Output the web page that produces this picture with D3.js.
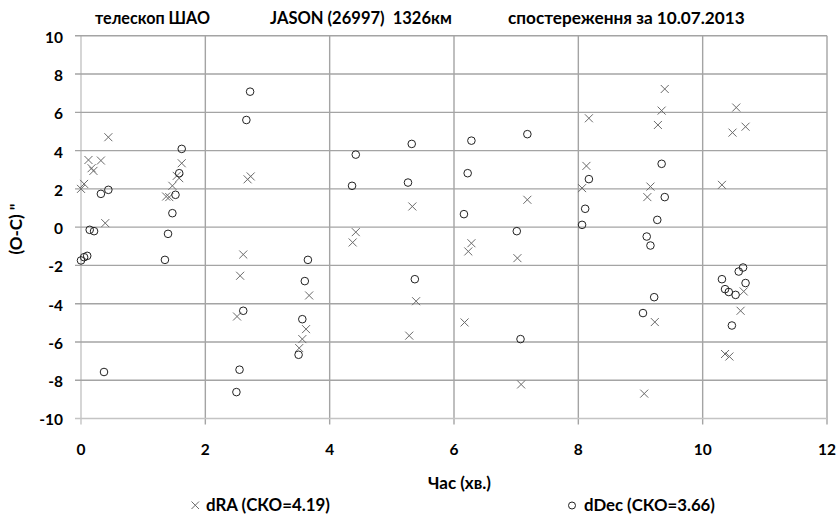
<!DOCTYPE html>
<html><head><meta charset="utf-8">
<script src="https://cdn.jsdelivr.net/npm/d3@7"></script>
<style>body{margin:0;background:#fff}text{font-family:Lato,'Open Sans',sans-serif;font-weight:bold;fill:#000;white-space:pre}</style>
</head><body>
<svg id="c" width="839" height="518"></svg>
<script>
const titleParts = ["телескоп ШАО", "JASON (26997)  1326км", "спостереження за 10.07.2013"];
const xTicks = [0, 2, 4, 6, 8, 10, 12];
const yTicks = [-10, -8, -6, -4, -2, 0, 2, 4, 6, 8, 10];
const xLabel = "Час (хв.)";
const yLabel = "(O-C) \"";
const seriesNames = ["dRA (СКО=4.19)", "dDec (СКО=3.66)"];

const raT = [0,0.05,0.12,0.17,0.2,0.32,0.39,0.44,1.37,1.42,1.47,1.54,1.58,1.62,2.51,2.56,2.61,2.68,2.73,3.51,3.56,3.62,3.67,4.37,4.42,5.28,5.33,5.39,6.17,6.23,6.28,7.02,7.08,7.18,8.06,8.13,8.17,9.06,9.11,9.16,9.23,9.28,9.34,9.39,10.31,10.36,10.43,10.48,10.54,10.61,10.66,10.69];
const raV = [2.0,2.26,3.51,3.08,2.94,3.48,0.21,4.7,1.6,1.57,2.16,2.68,2.56,3.34,-4.67,-2.54,-1.43,2.5,2.65,-6.32,-5.85,-5.33,-3.57,-0.8,-0.26,-5.67,1.08,-3.87,-4.98,-1.27,-0.84,-1.62,-8.22,1.43,2.04,3.2,5.69,-8.7,1.57,2.12,-4.96,5.34,6.09,7.22,2.21,-6.63,-6.76,4.94,6.25,-4.37,-3.36,5.25];
const decT = [0,0.05,0.1,0.14,0.21,0.32,0.37,0.44,1.35,1.4,1.47,1.52,1.58,1.62,2.5,2.55,2.61,2.66,2.72,3.5,3.56,3.6,3.65,4.36,4.42,5.26,5.32,5.37,6.16,6.22,6.28,7.01,7.07,7.18,8.06,8.11,8.17,9.04,9.1,9.16,9.22,9.27,9.34,9.39,10.31,10.36,10.42,10.47,10.53,10.58,10.65,10.69];
const decV = [-1.74,-1.57,-1.5,-0.14,-0.21,1.74,-7.57,1.95,-1.71,-0.35,0.73,1.69,2.82,4.09,-8.62,-7.45,-4.37,5.6,7.08,-6.67,-4.81,-2.82,-1.71,2.16,3.79,2.33,4.35,-2.72,0.68,2.82,4.52,-0.21,-5.85,4.86,0.12,0.96,2.51,-4.49,-0.49,-0.96,-3.66,0.38,3.31,1.57,-2.72,-3.24,-3.39,-5.14,-3.54,-2.32,-2.11,-2.92];

const svg = d3.select("#c");
const x = d3.scaleLinear().domain([0, 12]).range([81, 827]);
const y = d3.scaleLinear().domain([-10, 10]).range([418.5, 35.8]);

function fit(sel, target) {
  const fs = parseFloat(sel.attr("font-size"));
  const w = sel.node().getComputedTextLength();
  if (w > 0) sel.attr("font-size", (fs * target / w).toFixed(2));
  return sel;
}

// gridlines
const g = svg.append("g");
g.selectAll("line.v").data(xTicks).join("line")
  .attr("x1", d => x(d)).attr("x2", d => x(d))
  .attr("y1", y(10)).attr("y2", y(-10) + 6)
  .attr("stroke", d => d === 0 ? "#c4c4c4" : "#a4a4a4").attr("stroke-width", 1.4);
g.selectAll("line.h").data(yTicks).join("line")
  .attr("x1", x(0) - 6).attr("x2", x(12))
  .attr("y1", d => y(d)).attr("y2", d => y(d))
  .attr("stroke", d => d === -10 ? "#c4c4c4" : "#a4a4a4").attr("stroke-width", 1.4);

// tick labels
svg.append("g").selectAll("text").data(yTicks).join("text")
  .attr("x", 63).attr("y", d => y(d) + 1.5).attr("dy", "0.35em")
  .attr("text-anchor", "end").attr("font-size", 15.5).text(d => d);
svg.append("g").selectAll("text").data(xTicks).join("text")
  .attr("x", d => x(d)).attr("y", 454.5)
  .attr("text-anchor", "middle").attr("font-size", 15.5).text(d => d);

// titles
const titleX = [95, 270, 508];
const titleW = [115, 182, 237];
svg.append("g").selectAll("text").data(titleParts).join("text")
  .attr("x", (d, i) => titleX[i]).attr("y", 24)
  .attr("font-size", 15).text(d => d)
  .each(function(d, i) { fit(d3.select(this), titleW[i]); });

svg.append("text").attr("x", 459.5).attr("y", 489)
  .attr("text-anchor", "middle").attr("font-size", 17).text(xLabel);
svg.append("text").attr("transform", `translate(22,229) rotate(-90)`)
  .attr("text-anchor", "middle").attr("font-size", 17).text(yLabel);

// marks
const cs = 4;
const raData = raT.map((t, i) => [t, raV[i]]);
const decData = decT.map((t, i) => [t, decV[i]]);
svg.append("g").selectAll("path").data(raData).join("path")
  .attr("d", d => `M${x(d[0]) - cs},${y(d[1]) - cs}L${x(d[0]) + cs},${y(d[1]) + cs}M${x(d[0]) - cs},${y(d[1]) + cs}L${x(d[0]) + cs},${y(d[1]) - cs}`)
  .attr("stroke", "#6a6a6a").attr("stroke-width", 1).attr("fill", "none");
svg.append("g").selectAll("circle").data(decData).join("circle")
  .attr("cx", d => x(d[0])).attr("cy", d => y(d[1])).attr("r", 3.8)
  .attr("stroke", "#222").attr("stroke-width", 1).attr("fill", "none");

// legend
const lg = svg.append("g");
lg.append("path").attr("d", `M191.5,501.5L199,509M191.5,509L199,501.5`).attr("stroke", "#6a6a6a").attr("stroke-width", 1);
fit(lg.append("text").attr("x", 206).attr("y", 510.5).attr("font-size", 15).text(seriesNames[0]), 124);
lg.append("circle").attr("cx", 572).attr("cy", 505.5).attr("r", 3.5).attr("stroke", "#222").attr("fill", "none");
fit(lg.append("text").attr("x", 584).attr("y", 510.5).attr("font-size", 15).text(seriesNames[1]), 131);
</script>
</body></html>
